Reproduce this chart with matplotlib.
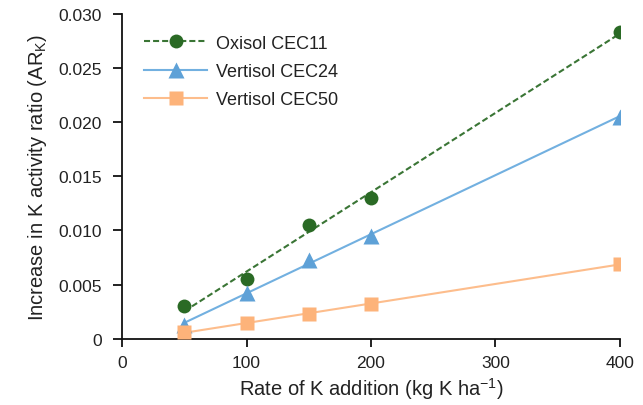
import numpy as np
import matplotlib
matplotlib.use("Agg")
import matplotlib.pyplot as plt
from matplotlib.ticker import FuncFormatter

plt.rcParams['font.family'] = ['Liberation Sans', 'DejaVu Sans']
plt.rcParams['mathtext.fontset'] = 'custom'
plt.rcParams['mathtext.rm'] = 'Liberation Sans'
plt.rcParams['mathtext.it'] = 'Liberation Sans'

# K addition rates (kg K/ha)
rates = [50, 100, 150, 200, 400]

# increase in K activity ratio per soil
oxisol_cec11 = [0.0030, 0.0055, 0.0105, 0.0130, 0.0283]
vertisol_cec24 = [0.0013, 0.0042, 0.0073, 0.0095, 0.0205]
vertisol_cec50 = [0.0006, 0.0015, 0.0023, 0.0032, 0.0069]

series = [
    ("Oxisol CEC11", oxisol_cec11, "#2a6a25", "#3a7535", (0, (2.9, 1.45)), "o", 10),
    ("Vertisol CEC24", vertisol_cec24, "#5ea1d7", "#72b0e0", "-", "^", 11),
    ("Vertisol CEC50", vertisol_cec50, "#fdb37a", "#fdbd8c", "-", "s", 9.5),
]

fig = plt.figure(figsize=(6.43, 4.06), dpi=100)
ax = fig.add_axes([0.19, 0.163, 0.774, 0.801])

x = np.array(rates)
for name, vals, mcol, lcol, ls, mk, ms in series:
    # linear fit drawn through the points
    slope, icpt = np.polyfit(x, vals, 1)
    xs = np.array([x.min(), x.max()])
    ax.plot(xs, slope * xs + icpt, color=lcol, ls=ls, lw=1.5, zorder=2)
    ax.plot(x, vals, ls="none", marker=mk, ms=ms, color=mcol, mec="none", zorder=3)
    ax.plot([], [], color=lcol, ls=ls, lw=1.5, marker=mk, ms=ms,
            mfc=mcol, mec="none", label=name)

ax.set_xlim(0, 400)
ax.set_ylim(0, 0.030)
ax.set_xticks([0, 100, 200, 300, 400])
ax.set_yticks(np.arange(0, 0.0301, 0.005))
ax.yaxis.set_major_formatter(FuncFormatter(lambda v, p: "0" if v == 0 else f"{v:.3f}"))

for s in ["top", "right"]:
    ax.spines[s].set_visible(False)
for s in ["left", "bottom"]:
    ax.spines[s].set_linewidth(1.3)
    ax.spines[s].set_color("#111111")
ax.tick_params(direction="out", width=1.3, labelsize=12.5, labelcolor="#222222", color="#111111")
ax.tick_params(axis="y", length=6.5, pad=8)
ax.tick_params(axis="x", length=5.5, pad=6)

ax.set_xlabel("Rate of K addition (kg K ha$^{-1}$)", fontsize=14.5, color="#222222", labelpad=4)
ax.set_ylabel("Increase in K activity ratio (AR$_{\\mathrm{K}}$)", fontsize=14.5, color="#222222", labelpad=7)

ax.legend(loc="upper left", bbox_to_anchor=(0.044, 0.935), frameon=False,
          borderpad=0, borderaxespad=0, fontsize=13, handlelength=3.5,
          handletextpad=0.5, labelspacing=0.62, labelcolor="#222222")

fig.savefig("out.png", dpi=100)
